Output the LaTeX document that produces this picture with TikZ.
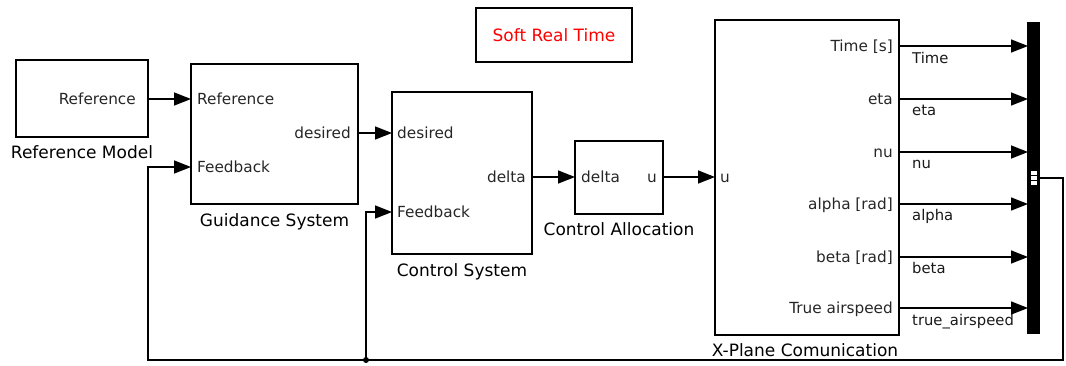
\documentclass[tikz,border=0pt]{standalone}
\usepackage{fontspec}
\setmainfont{DejaVu Sans}
\usetikzlibrary{arrows.meta}
\begin{document}
\begin{tikzpicture}[x=1pt,y=-1pt,
  blk/.style={draw, line width=1.6pt, inner sep=0pt, outer sep=0pt, anchor=north west},
  port/.style={font=\fontsize{15.3}{17}\selectfont, inner sep=0pt, text height=11.2pt, text depth=0pt, text=black!85},
  sname/.style={font=\fontsize{14.8}{17}\selectfont, inner sep=0pt, text height=10.8pt, text depth=0pt, text=black!90, anchor=west},
  bname/.style={font=\fontsize{17}{19}\selectfont, inner sep=0pt, text height=12.4pt, text depth=0pt},
  sig/.style={line width=1.5pt, -{Triangle[length=17pt,width=13pt]}},
  wire/.style={line width=1.5pt}]
\useasboundingbox (0,0) rectangle (1066,365);

% blocks
\node[blk, minimum width=132pt, minimum height=77pt] (refm) at (16,60) {};
\node[blk, minimum width=167pt, minimum height=140pt] (guid) at (191,64) {};
\node[blk, minimum width=140pt, minimum height=162pt] (ctrl) at (392,92) {};
\node[blk, minimum width=88pt, minimum height=73pt] (alloc) at (575,141) {};
\node[blk, minimum width=184pt, minimum height=315pt] (xpl) at (715,20) {};
\node[draw, line width=1.6pt, inner sep=0pt, minimum width=156pt, minimum height=54pt,
      text=red, font=\fontsize{17}{19}\selectfont] (srt) at (554,35) {Soft Real Time};
\node[blk, fill=black, minimum width=11pt, minimum height=310pt] (bus) at (1028,23) {};

% block names
\node[bname] (refmL) at ([yshift=-15.5pt]refm.south) {Reference Model};
\node[bname] (guidL) at ([yshift=-16pt]guid.south) {Guidance System};
\node[bname] (ctrlL) at ([yshift=-16pt]ctrl.south) {Control System};
\node[bname] (allocL) at ([yshift=-15.5pt]alloc.south) {Control Allocation};
\node[bname] (xplL) at ([yshift=-15.5pt,xshift=-2pt]xpl.south) {X-Plane Comunication};

% port labels
\node[port, anchor=east] (pRout) at (136,99) {Reference};
\node[port, anchor=west] (pGref) at (197,99) {Reference};
\node[port, anchor=west] (pGfb) at (197,167) {Feedback};
\node[port, anchor=east] (pGdes) at (351,133) {desired};
\node[port, anchor=west] (pCdes) at (397,133) {desired};
\node[port, anchor=west] (pCfb) at (397,212) {Feedback};
\node[port, anchor=east] (pCdel) at (526,177) {delta};
\node[port, anchor=west] (pAdel) at (581,177) {delta};
\node[port, anchor=east] (pAu) at (657,177) {u};
\node[port, anchor=west] (pXu) at (720,177) {u};
\node[port, anchor=east] (pX1) at (893,46) {Time [s]};
\node[port, anchor=east] (pX2) at (893,99) {eta};
\node[port, anchor=east] (pX3) at (893,152) {nu};
\node[port, anchor=east] (pX4) at (893,204) {alpha [rad]};
\node[port, anchor=east] (pX5) at (893,257) {beta [rad]};
\node[port, anchor=east] (pX6) at (893,308) {True airspeed};

% signal names
\node[sname] (s1) at (912,58) {Time};
\node[sname] (s2) at (912,110) {eta};
\node[sname] (s3) at (912,163) {nu};
\node[sname] (s4) at (912,215) {alpha};
\node[sname] (s5) at (912,268) {beta};
\node[sname] (s6) at (912,320) {true\_airspeed};

% forward connectors
\draw[sig] (refm.east |- pRout) -- (guid.west |- pGref);
\draw[sig] (guid.east |- pGdes) -- (ctrl.west |- pCdes);
\draw[sig] (ctrl.east |- pCdel) -- (alloc.west |- pAdel);
\draw[sig] (alloc.east |- pAu) -- (xpl.west |- pXu);
\foreach \p in {pX1,pX2,pX3,pX4,pX5,pX6}
  \draw[sig] (xpl.east |- \p) -- (bus.west |- \p);

% bus output marker
\coordinate (busout) at (1039,178);
\draw[fill=white, line width=0.8pt] (1030.5,170) rectangle (1037.5,185);
\draw[line width=1pt] (1030.5,175) -- (1037.5,175) (1030.5,180) -- (1037.5,180);

% feedback
\coordinate (fbc1) at (1063,360);
\coordinate (fbc2) at (148,360);
\coordinate (jn) at (366,360);
\draw[sig] (busout) -| (fbc1) -- (fbc2) |- (guid.west |- pGfb);
\draw[sig] (jn) |- (ctrl.west |- pCfb);
\fill (jn) circle (3pt);
\end{tikzpicture}
\end{document}
